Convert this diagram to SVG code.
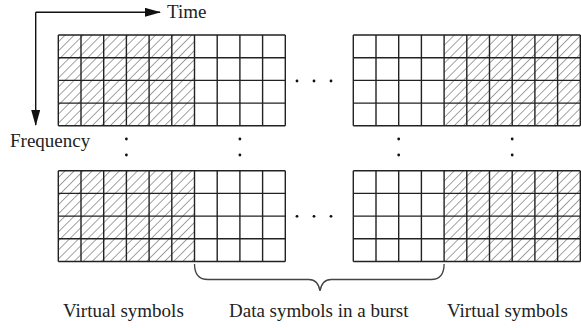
<svg xmlns="http://www.w3.org/2000/svg" width="581" height="328" viewBox="0 0 581 328">
<style>
.grid{fill:none;stroke:#222;stroke-width:1.4}
.lbl{font-family:"Liberation Serif","Times New Roman",serif;font-size:19px;fill:#222}
.axis{fill:none;stroke:#111;stroke-width:1.4}
.dot{fill:#111}
.brace{fill:none;stroke:#444;stroke-width:1.3}
</style>
<defs>
<pattern id="hatch" patternUnits="userSpaceOnUse" width="6.4" height="6.4" patternTransform="rotate(45)">
<line x1="0" y1="-1" x2="0" y2="7.4" stroke="#333" stroke-width="0.9"/>
</pattern>
<marker id="arr" viewBox="0 0 16 9" refX="15" refY="4.5" markerWidth="16" markerHeight="9" markerUnits="userSpaceOnUse" orient="auto">
<path d="M0,0 L16,4.5 L0,9 Z" fill="#111"/>
</marker>
</defs>
<g id="connectors">
<path class="axis" d="M35.7,12.3 H160" marker-end="url(#arr)"/>
<path class="axis" d="M35.7,12.3 V125" marker-end="url(#arr)"/>
<path class="brace" d="M194.5,264 Q194.5,279.5 208,279.5 L309,279.5 Q318,279.5 320,291 Q322,279.5 331,279.5 L431,279.5 Q444.1,279.5 444.1,264"/>
</g>
<g id="time-label"><text class="lbl" x="167" y="17.5">Time</text></g>
<g id="frequency-label"><text class="lbl" x="10" y="147">Frequency</text></g>
<g id="grid-top-left">
<rect x="58.3" y="35" width="136.2" height="90.8" fill="url(#hatch)"/>
<path class="grid" d="M58.3,35V125.8M81,35V125.8M103.7,35V125.8M126.4,35V125.8M149.1,35V125.8M171.8,35V125.8M194.5,35V125.8M217.2,35V125.8M239.9,35V125.8M262.6,35V125.8M285.3,35V125.8M58.3,35H285.3M58.3,57.7H285.3M58.3,80.4H285.3M58.3,103.1H285.3M58.3,125.8H285.3"/>
</g>
<g id="grid-top-right">
<rect x="444.1" y="35" width="136.2" height="90.8" fill="url(#hatch)"/>
<path class="grid" d="M353.3,35V125.8M376,35V125.8M398.7,35V125.8M421.4,35V125.8M444.1,35V125.8M466.8,35V125.8M489.5,35V125.8M512.2,35V125.8M534.9,35V125.8M557.6,35V125.8M580.3,35V125.8M353.3,35H580.3M353.3,57.7H580.3M353.3,80.4H580.3M353.3,103.1H580.3M353.3,125.8H580.3"/>
</g>
<g id="grid-bottom-left">
<rect x="58.3" y="170.7" width="136.2" height="90.8" fill="url(#hatch)"/>
<path class="grid" d="M58.3,170.7V261.5M81,170.7V261.5M103.7,170.7V261.5M126.4,170.7V261.5M149.1,170.7V261.5M171.8,170.7V261.5M194.5,170.7V261.5M217.2,170.7V261.5M239.9,170.7V261.5M262.6,170.7V261.5M285.3,170.7V261.5M58.3,170.7H285.3M58.3,193.4H285.3M58.3,216.1H285.3M58.3,238.8H285.3M58.3,261.5H285.3"/>
</g>
<g id="grid-bottom-right">
<rect x="444.1" y="170.7" width="136.2" height="90.8" fill="url(#hatch)"/>
<path class="grid" d="M353.3,170.7V261.5M376,170.7V261.5M398.7,170.7V261.5M421.4,170.7V261.5M444.1,170.7V261.5M466.8,170.7V261.5M489.5,170.7V261.5M512.2,170.7V261.5M534.9,170.7V261.5M557.6,170.7V261.5M580.3,170.7V261.5M353.3,170.7H580.3M353.3,193.4H580.3M353.3,216.1H580.3M353.3,238.8H580.3M353.3,261.5H580.3"/>
</g>
<g id="ellipses">
<circle class="dot" cx="297" cy="81" r="1.4"/>
<circle class="dot" cx="314" cy="81" r="1.4"/>
<circle class="dot" cx="331" cy="81" r="1.4"/>
<circle class="dot" cx="297" cy="216.3" r="1.4"/>
<circle class="dot" cx="314" cy="216.3" r="1.4"/>
<circle class="dot" cx="331" cy="216.3" r="1.4"/>
<circle class="dot" cx="126.4" cy="139" r="1.4"/>
<circle class="dot" cx="126.4" cy="155" r="1.4"/>
<circle class="dot" cx="239.9" cy="139" r="1.4"/>
<circle class="dot" cx="239.9" cy="155" r="1.4"/>
<circle class="dot" cx="398.7" cy="139" r="1.4"/>
<circle class="dot" cx="398.7" cy="155" r="1.4"/>
<circle class="dot" cx="512.2" cy="139" r="1.4"/>
<circle class="dot" cx="512.2" cy="155" r="1.4"/>
</g>
<g id="label-virtual-left"><text class="lbl" x="63" y="317">Virtual symbols</text></g>
<g id="label-data"><text class="lbl" x="229" y="317">Data symbols in a burst</text></g>
<g id="label-virtual-right"><text class="lbl" x="447" y="317">Virtual symbols</text></g>
</svg>
